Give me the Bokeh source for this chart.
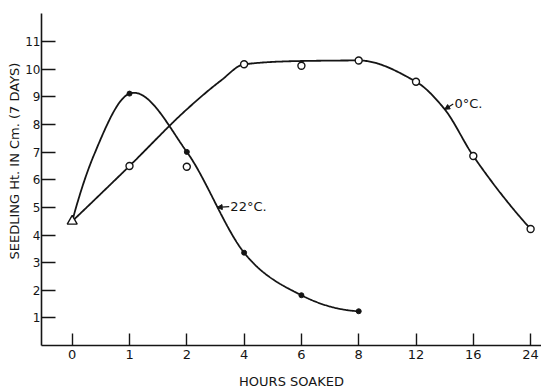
import numpy as np
from bokeh.plotting import figure
from bokeh.models import FixedTicker, Range1d, Label, Arrow, NormalHead, Title
from bokeh.embed import file_html
from bokeh.resources import INLINE

# ---- data ----
hours_labels = ["0", "1", "2", "4", "6", "8", "12", "16", "24"]
hours_pos = list(range(len(hours_labels)))   # equally spaced hour categories

control_pos = [0]
control_height = [4.5]                        # triangle at 0 hours

warm_pos = [1, 2, 3, 4, 5]                    # 22 °C  (filled dots)
warm_height = [9.12, 7.01, 3.36, 1.82, 1.24]

cold_pos = [1, 2, 3, 4, 5, 6, 7, 8]           # 0 °C  (open circles)
cold_height = [6.5, 6.47, 10.18, 10.13, 10.32, 9.55, 6.86, 4.22]

# smooth curves as drawn by hand (knots)
warm_curve_x = [0, 0.38, 1.0, 2.0, 3.0, 4.0, 5.0]
warm_curve_y = [4.5, 6.9, 9.12, 7.01, 3.36, 1.82, 1.24]
cold_curve_x = [0, 1, 2, 2.6, 3, 4, 5, 6, 6.49, 7, 8]
cold_curve_y = [4.5, 6.5, 8.55, 9.6, 10.18, 10.3, 10.32, 9.55, 8.58, 6.86, 4.22]

y_ticks = list(range(1, 12))

# curve labels: text, text position, arrow tail, arrow tip
curve_labels = [
    ("22°C.", 2.76, 5.05, 2.74, 5.03, 2.53, 5.0),
    ("0°C.", 6.67, 8.76, 6.65, 8.74, 6.50, 8.55),
]


def smooth(xk, yk, monotone=False, n=400):
    """Cubic Hermite curve through the knots."""
    xk = np.asarray(xk, float)
    yk = np.asarray(yk, float)
    h = np.diff(xk)
    d = np.diff(yk) / h
    m = np.zeros_like(yk)
    if monotone:
        for k in range(1, len(xk) - 1):
            if d[k - 1] * d[k] <= 0:
                m[k] = 0.0
            else:
                w1 = 2 * h[k] + h[k - 1]
                w2 = h[k] + 2 * h[k - 1]
                m[k] = (w1 + w2) / (w1 / d[k - 1] + w2 / d[k])
    else:
        m[1:-1] = (d[:-1] + d[1:]) / 2
    m[0] = 2 * d[0] - m[1]
    m[-1] = 2 * d[-1] - m[-2]
    xs = np.linspace(xk[0], xk[-1], n)
    idx = np.clip(np.searchsorted(xk, xs) - 1, 0, len(h) - 1)
    t = (xs - xk[idx]) / h[idx]
    h00 = 2 * t**3 - 3 * t**2 + 1
    h10 = t**3 - 2 * t**2 + t
    h01 = -2 * t**3 + 3 * t**2
    h11 = t**3 - t**2
    ys = h00 * yk[idx] + h10 * h[idx] * m[idx] + h01 * yk[idx + 1] + h11 * h[idx] * m[idx + 1]
    return xs, ys


INK = "#151515"
FONT = "DejaVu Sans"

p = figure(width=541, height=391,
           x_range=Range1d(-0.536, 8.19), y_range=Range1d(0, 12.02),
           output_backend="svg", toolbar_location=None,
           min_border_left=41, min_border_right=0, min_border_top=13, min_border_bottom=45)
p.outline_line_color = None
p.grid.visible = False
p.background_fill_color = "white"

# x axis
p.xaxis.ticker = FixedTicker(ticks=hours_pos)
p.xaxis.major_label_overrides = {i: s for i, s in zip(hours_pos, hours_labels)}
p.xaxis.major_tick_in = 12
p.xaxis.major_tick_out = 0
p.xaxis.minor_tick_line_color = None
p.xaxis.axis_label = "HOURS SOAKED"
p.xaxis.axis_label_standoff = 12
p.xaxis.major_label_standoff = 4
p.xaxis.major_label_text_font_size = "13px"
p.xaxis.axis_label_text_font_size = "13px"
p.xaxis.axis_label_text_font = FONT
p.xaxis.axis_label_text_font_style = "normal"
p.xaxis.axis_label_text_color = INK

# y axis
p.yaxis.ticker = FixedTicker(ticks=y_ticks)
p.yaxis.major_tick_in = 14
p.yaxis.major_tick_out = 0
p.yaxis.minor_tick_line_color = None
p.yaxis.major_label_standoff = 1
p.yaxis.major_label_text_font_size = "12px"

for ax in (p.xaxis[0], p.yaxis[0]):
    ax.axis_line_color = INK
    ax.axis_line_width = 1.6
    ax.major_tick_line_color = INK
    ax.major_tick_line_width = 1.4
    ax.major_label_text_font = FONT
    ax.major_label_text_color = INK

# y axis title, placed a little above the axis centre as in the original
p.add_layout(Title(text="SEEDLING Ht. IN Cm. (7 DAYS)", align="left", offset=86,
                   standoff=2, text_font=FONT, text_font_size="13px",
                   text_font_style="normal", text_color=INK), "left")

# curves
wx, wy = smooth(warm_curve_x, warm_curve_y)
cx, cy = smooth(cold_curve_x, cold_curve_y, monotone=True)
p.line(wx, wy, line_width=1.8, line_color=INK)
p.line(cx, cy, line_width=1.8, line_color=INK)

# points
p.scatter(cold_pos, cold_height, marker="circle", size=7, fill_color="white",
          line_color=INK, line_width=1.4)
p.scatter(warm_pos, warm_height, marker="circle", size=5, fill_color=INK,
          line_color=INK, line_width=1)
p.scatter(control_pos, control_height, marker="triangle", size=10, fill_color="white",
          line_color=INK, line_width=1.4)

# curve labels
for text, tx, ty, ax0, ay0, ax1, ay1 in curve_labels:
    p.add_layout(Label(x=tx, y=ty, text=text, text_baseline="middle", text_align="left",
                       text_font=FONT, text_font_size="13px", text_color=INK))
    p.add_layout(Arrow(end=NormalHead(size=5, fill_color=INK, line_color=INK),
                       x_start=ax0, y_start=ay0, x_end=ax1, y_end=ay1,
                       line_color=INK, line_width=1.2))

open("out.html", "w").write(file_html(p, INLINE))
